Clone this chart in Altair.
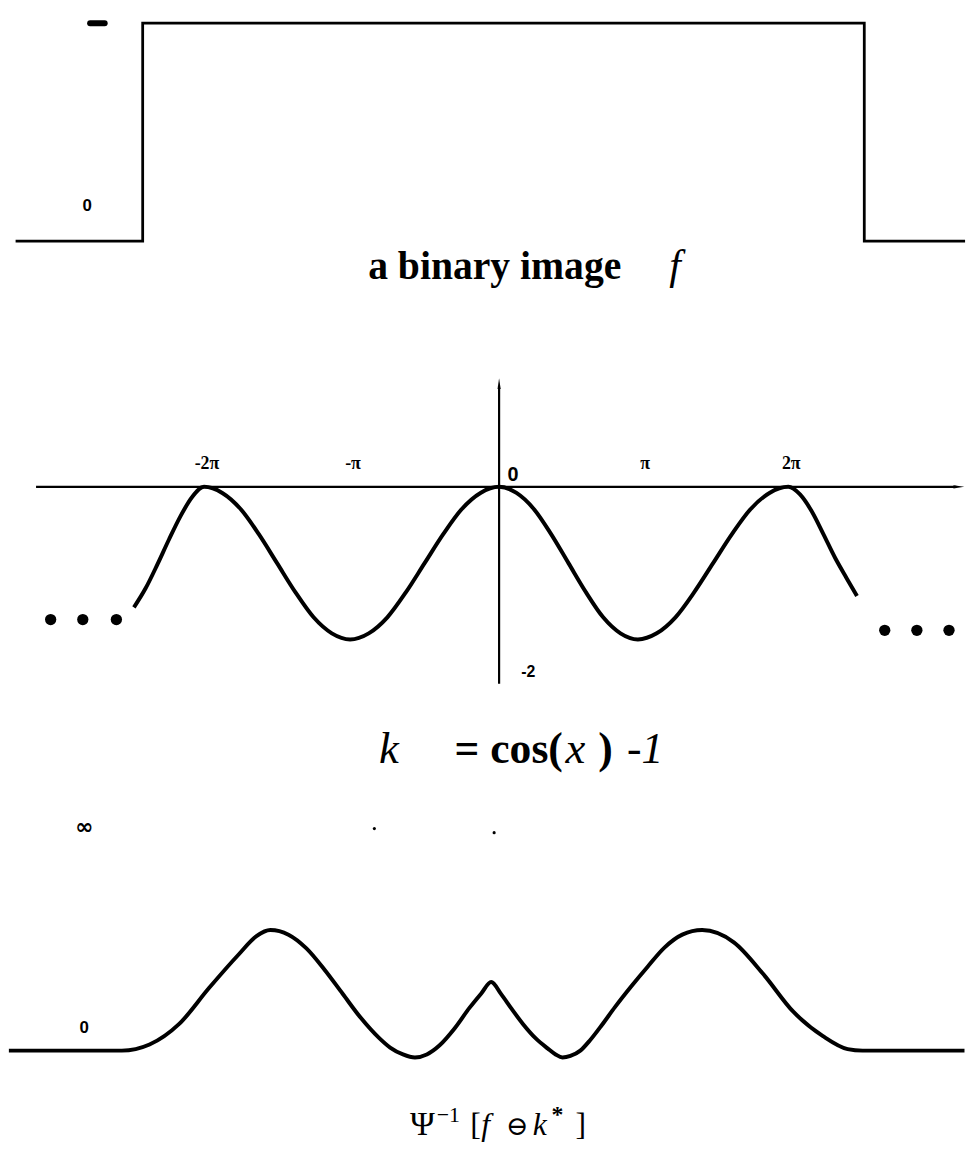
import altair as alt
import pandas as pd

# Horizontal position shared by every panel, in multiples of pi
X_DOMAIN = [-3.41, 3.19]
PANEL_W = 973

# ---- panel 1: binary image f ----
f_pos = [-3.31, -2.44, -2.44, 2.50, 2.50, 3.19]
f_val = [0, 0, 1, 1, 0, 0]

# ---- panel 2: structuring function k = cos(x) - 1 ----
k_pos = [-2.50, -2.42, -2.34, -2.26, -2.18, -2.10, -2.02,
         -1.895, -1.77, -1.645, -1.52, -1.395, -1.27, -1.145, -1.02,
         -0.8925, -0.765, -0.6375, -0.51, -0.3825, -0.255, -0.1275, 0.0,
         0.119, 0.2375, 0.356, 0.475, 0.594, 0.7125, 0.831, 0.95,
         1.079, 1.2075, 1.336, 1.465, 1.594, 1.7225, 1.851, 1.98,
         2.06, 2.14, 2.22, 2.30, 2.38, 2.45]
k_val = [-1.58, -1.33, -1.02, -0.69, -0.38, -0.13, 0.0,
         -0.08, -0.29, -0.62, -1.00, -1.38, -1.71, -1.92, -2.00,
         -1.92, -1.71, -1.38, -1.00, -0.62, -0.29, -0.08, 0.0,
         -0.08, -0.29, -0.62, -1.00, -1.38, -1.71, -1.92, -2.00,
         -1.92, -1.71, -1.38, -1.00, -0.62, -0.29, -0.08, 0.0,
         -0.10, -0.32, -0.62, -0.93, -1.20, -1.43]
tick_pos = [-2, -1, 1, 2]
tick_txt = ["-2π", "-π", "π", "2π"]
dots_left = [-3.07, -2.85, -2.62]
dots_right = [2.64, 2.86, 3.08]

# ---- panel 3: Psi^-1 [f (-) k*] ----
g_pos = [-3.356, -2.583, -2.393, -2.190, -1.986, -1.783, -1.661, -1.566,
         -1.442, -1.319, -1.195, -1.071, -0.947, -0.824, -0.746, -0.658, -0.576,
         -0.495, -0.407, -0.305, -0.203, -0.122, -0.054,
         0.014, 0.081, 0.163, 0.251, 0.332, 0.387, 0.434,
         0.488, 0.556, 0.624, 0.705, 0.793, 0.908, 1.017, 1.132, 1.254, 1.390,
         1.607, 1.810, 2.014, 2.217, 2.386, 2.488, 3.186]
g_val = [0.0, 0.0, 0.08, 0.35, 0.82, 1.26, 1.50, 1.58,
         1.52, 1.34, 1.06, 0.745, 0.43, 0.17, 0.04, -0.05, -0.09,
         -0.05, 0.07, 0.29, 0.56, 0.75, 0.90,
         0.74, 0.56, 0.35, 0.16, 0.03, -0.05, -0.09,
         -0.07, 0.0, 0.14, 0.34, 0.57, 0.85, 1.10, 1.35, 1.52, 1.58,
         1.42, 1.00, 0.51, 0.19, 0.02, 0.0, 0.0]

SERIF = "Liberation Serif"
SANS = "Liberation Sans"


def enc(ydom):
    """x/y encodings sharing one fixed scale per panel."""
    return dict(
        x=alt.X("x:Q", scale=alt.Scale(domain=X_DOMAIN, nice=False, zero=False), axis=None),
        y=alt.Y("y:Q", scale=alt.Scale(domain=ydom, nice=False, zero=False), axis=None),
    )


def text_layer(ydom, x, y, txt, **kw):
    df = pd.DataFrame({"x": [x], "y": [y], "t": [txt]})
    return alt.Chart(df).mark_text(**kw).encode(text="t:N", **enc(ydom))


# ---------------- panel 1 ----------------
Y1 = [-0.282, 1.082]
f_df = pd.DataFrame({"x": f_pos, "y": f_val})
p1_line = alt.Chart(f_df).mark_line(color="black", strokeWidth=2.8).encode(**enc(Y1))
p1_dash = alt.Chart(pd.DataFrame({"x": [-2.80], "x2": [-2.70], "y": [1]})).mark_rule(
    color="black", strokeWidth=6, strokeCap="round").encode(x2="x2:Q", **enc(Y1))
p1_zero = text_layer(Y1, -2.82, 0.16, "0", font=SANS, fontSize=17, fontWeight="bold",
                     align="center", baseline="middle")
p1_cap = text_layer(Y1, -0.03, -0.173, "a binary image", font=SERIF, fontSize=40,
                    fontWeight="bold", align="center", baseline="alphabetic")
p1_f = text_layer(Y1, 1.205, -0.173, "f", font=SERIF, fontSize=42, fontStyle="italic",
                  align="center", baseline="alphabetic")
panel1 = alt.layer(p1_line, p1_dash, p1_zero, p1_cap, p1_f).properties(width=PANEL_W, height=300)

# ---------------- panel 2 ----------------
Y2 = [-3.948, 2.4156]
k_df = pd.DataFrame({"x": k_pos, "y": k_val})
p2_curve = alt.Chart(k_df).mark_line(color="black", strokeWidth=4, interpolate="monotone").encode(**enc(Y2))
p2_hax = alt.Chart(pd.DataFrame({"x": [-3.17], "x2": [3.13], "y": [0]})).mark_rule(
    color="black", strokeWidth=2.2).encode(x2="x2:Q", **enc(Y2))
p2_vax = alt.Chart(pd.DataFrame({"x": [0], "y": [-2.58], "y2": [1.30]})).mark_rule(
    color="black", strokeWidth=2.2).encode(y2="y2:Q", **enc(Y2))
p2_arrow_r = alt.Chart(pd.DataFrame({"x": [3.135], "y": [0]})).mark_point(
    shape="wedge", filled=True, color="black", opacity=1, size=160, angle=90).encode(**enc(Y2))
p2_arrow_u = alt.Chart(pd.DataFrame({"x": [0], "y": [1.33]})).mark_point(
    shape="wedge", filled=True, color="black", opacity=1, size=160).encode(**enc(Y2))
tick_df = pd.DataFrame({"x": tick_pos, "y": [0.30] * 4, "t": tick_txt})
p2_ticks = alt.Chart(tick_df).mark_text(font=SERIF, fontSize=18, fontWeight="bold",
                                        baseline="middle").encode(text="t:N", **enc(Y2))
p2_zero = text_layer(Y2, 0.095, 0.16, "0", font=SANS, fontSize=20, fontWeight="bold",
                     align="center", baseline="middle")
p2_m2 = text_layer(Y2, 0.20, -2.43, "-2", font=SANS, fontSize=16, fontWeight="bold",
                   align="center", baseline="middle")
dots_df = pd.DataFrame({"x": dots_left + dots_right, "y": [-1.74] * 3 + [-1.88] * 3})
p2_dots = alt.Chart(dots_df).mark_point(shape="circle", filled=True, color="black",
                                        opacity=1, size=130).encode(**enc(Y2))
CAP2_Y = -3.62
p2_k = text_layer(Y2, -0.755, CAP2_Y, "k", font=SERIF, fontSize=45, fontStyle="italic",
                  align="center", baseline="alphabetic")
p2_eq = text_layer(Y2, -0.305, CAP2_Y, "= cos(", font=SERIF, fontSize=44, fontWeight="bold",
                   align="left", baseline="alphabetic")
p2_x = text_layer(Y2, 0.454, CAP2_Y, "x", font=SERIF, fontSize=45, fontStyle="italic",
                  align="left", baseline="alphabetic")
p2_par = text_layer(Y2, 0.678, CAP2_Y, ")", font=SERIF, fontSize=44, fontWeight="bold",
                    align="left", baseline="alphabetic")
p2_m1 = text_layer(Y2, 0.875, CAP2_Y, "-1", font=SERIF, fontSize=44, fontStyle="italic",
                   align="left", baseline="alphabetic")
panel2 = alt.layer(p2_hax, p2_vax, p2_arrow_r, p2_arrow_u, p2_curve, p2_ticks, p2_zero,
                   p2_m2, p2_dots, p2_k, p2_eq, p2_x, p2_par, p2_m1).properties(
    width=PANEL_W, height=490)

# ---------------- panel 3 ----------------
Y3 = [-1.3117, 3.4416]
g_df = pd.DataFrame({"x": g_pos, "y": g_val})
p3_curve = alt.Chart(g_df).mark_line(color="black", strokeWidth=4, interpolate="monotone").encode(**enc(Y3))
p3_inf = text_layer(Y3, -2.84, 2.935, "∞", font="DejaVu Sans", fontSize=22, fontWeight="bold",
                    align="center", baseline="middle")
p3_zero = text_layer(Y3, -2.84, 0.30, "0", font=SANS, fontSize=17, fontWeight="bold",
                     align="center", baseline="middle")
specks = pd.DataFrame({"x": [-0.854, -0.034], "y": [2.91, 2.857]})
p3_specks = alt.Chart(specks).mark_point(shape="circle", filled=True, color="black",
                                         opacity=1, size=10).encode(**enc(Y3))
CAP3_Y = -1.104
SUP_Y = -0.935
p3_psi = text_layer(Y3, -0.6105, CAP3_Y, "Ψ", font=SERIF, fontSize=34, align="left", baseline="alphabetic")
p3_inv = text_layer(Y3, -0.4273, SUP_Y, "−1", font=SERIF, fontSize=22, align="left", baseline="alphabetic")
p3_lb = text_layer(Y3, -0.1967, CAP3_Y, "[", font=SERIF, fontSize=32, align="left", baseline="alphabetic")
p3_f = text_layer(Y3, -0.1221, CAP3_Y, "f", font=SERIF, fontSize=32, fontStyle="italic",
                  align="left", baseline="alphabetic")
p3_op = text_layer(Y3, 0.0475, CAP3_Y, "⊖", font="DejaVu Serif", fontSize=27, align="left", baseline="alphabetic")
p3_k = text_layer(Y3, 0.2306, CAP3_Y, "k", font=SERIF, fontSize=32, fontStyle="italic",
                  align="left", baseline="alphabetic")
p3_star = text_layer(Y3, 0.3595, SUP_Y, "*", font=SERIF, fontSize=24, fontWeight="bold",
                     align="left", baseline="alphabetic")
p3_rb = text_layer(Y3, 0.5223, CAP3_Y, "]", font=SERIF, fontSize=32, align="left", baseline="alphabetic")
panel3 = alt.layer(p3_curve, p3_inf, p3_zero, p3_specks, p3_psi, p3_inv, p3_lb, p3_f,
                   p3_op, p3_k, p3_star, p3_rb).properties(width=PANEL_W, height=366)

chart = alt.vconcat(panel1, panel2, panel3, spacing=0).resolve_scale(
    x="independent", y="independent").properties(padding=0).configure_view(stroke=None)

chart.save("out.html", embed_options={"renderer": "svg", "actions": False})
